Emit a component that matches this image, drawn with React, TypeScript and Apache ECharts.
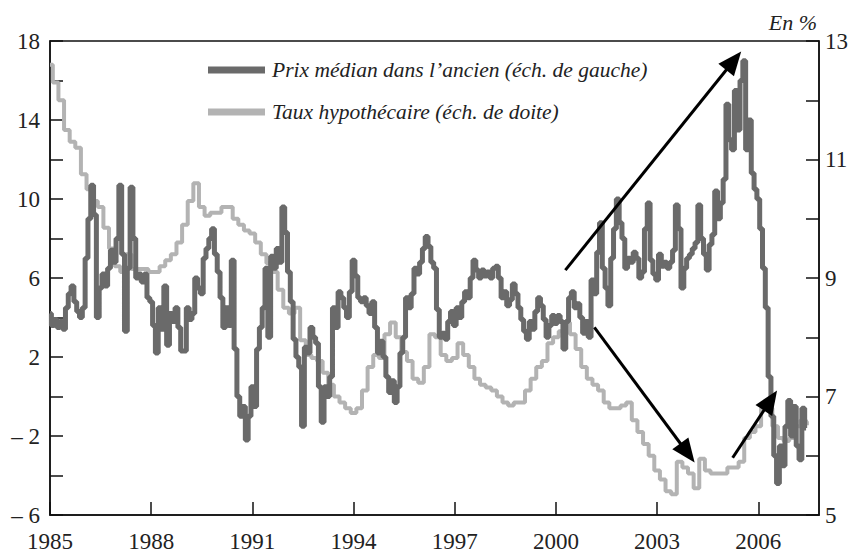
import React, { useEffect, useRef } from "react";
import * as echarts from "echarts";

// Prix médian dans l'ancien, monthly, Jan 1985 onward (left scale)
const prixMedian: number[] = [
  4.2, 3.6, 3.9, 3.5, 3.8, 3.4, 4.5, 5.2, 5.6, 4.8, 4.3, 4.0,
  4.5, 7.0, 9.0, 10.7, 9.2, 4.0, 5.5, 6.2, 5.6, 6.5, 7.4, 6.8,
  8.0, 10.7, 7.2, 3.3, 6.5, 10.6, 8.0, 6.0, 6.2, 5.8, 6.2, 5.0,
  4.8, 3.6, 2.2, 4.5, 3.4, 5.6, 2.6, 4.2, 3.8, 4.5, 3.5, 2.3,
  2.3, 4.5, 3.9, 4.2, 6.0, 5.5, 5.2, 7.0, 7.5, 8.0, 8.5, 7.2,
  6.3, 5.0, 3.5, 4.5, 3.6, 6.9, 2.4, 0.0, -1.0, -0.5, -2.2, -1.0,
  0.5, -0.5, 2.4, 3.5, 4.5, 6.5, 3.0, 7.1, 6.5, 7.5, 6.8, 9.6,
  8.3, 6.3, 4.8, 2.9, 2.0, 1.5, -1.5, 2.5, 2.2, 3.5, 3.0, 2.7,
  0.5, -1.3, 0.5, 0.0, 1.0, 4.5, 3.5, 5.3, 5.0, 4.5, 4.0, 5.3,
  6.9, 6.1, 5.0, 4.8, 5.0, 4.6, 4.2, 4.8, 3.5, 2.2, 2.8, 2.0,
  1.0, 0.2, 0.8, -0.3, 0.5, 2.2, 3.0, 5.0, 4.5, 5.2, 6.5, 6.2,
  6.8, 7.5, 8.1, 7.6, 6.8, 6.5, 4.4, 3.0, 3.2, 2.9, 3.8, 4.3,
  3.6, 4.5, 4.0, 4.8, 5.3, 5.0, 6.0, 6.9, 6.4, 6.0, 6.4, 6.1,
  6.3, 6.0, 6.5, 6.6, 6.0, 5.0, 5.3, 4.6, 4.9, 5.7, 5.2, 4.5,
  3.9, 3.3, 2.9, 3.8, 3.4, 4.3, 5.0, 4.6, 3.9, 3.0, 3.6, 4.1,
  3.7, 4.1, 3.8, 2.4, 3.8, 5.0, 5.3, 4.5, 4.7, 4.0, 3.2, 3.8,
  3.0, 5.9, 5.2, 7.3, 8.8, 6.5, 5.5, 4.6, 7.0, 8.5, 10.0, 8.8,
  8.0, 6.5, 7.0, 6.8, 7.3, 7.0, 6.0, 6.3, 8.5, 9.8, 6.9, 6.2,
  5.9, 7.2, 6.6, 6.8, 6.5, 6.8, 7.4, 9.7, 8.5, 5.5, 6.5, 7.0,
  7.2, 7.5, 7.8, 9.7, 8.0, 7.2, 6.4, 7.7, 8.2, 10.4, 9.0, 9.8,
  11.0, 14.8, 13.0, 12.5, 15.5, 13.5, 16.0, 17.0, 12.5, 14.0, 11.3, 10.5,
  10.0, 8.5, 6.5, 4.5, 1.0, -1.0, -3.0, -4.4, -2.5, -3.5, -1.5, -0.2,
  -2.0, -0.5, -2.5, -3.2, -0.6, -1.6,
];

// Taux hypothécaire, every two months, Jan 1985 onward (right scale)
const tauxHypo: number[] = [
  12.6, 12.3, 12.0, 11.5, 11.3, 11.2,
  10.75, 10.5, 10.3, 10.2, 9.85, 9.5,
  9.2, 9.1, 9.4, 9.15, 9.15, 9.15,
  9.1, 9.1, 9.2, 9.3, 9.4, 9.6,
  9.9, 10.3, 10.6, 10.2, 10.05, 10.1,
  10.1, 10.2, 10.2, 10.0, 9.9, 9.8,
  9.75, 9.6, 9.4, 9.25, 9.1, 8.8,
  8.5, 8.4, 8.5, 7.95, 7.7, 7.65,
  7.6, 7.4, 7.2, 7.0, 6.9, 6.8,
  6.72, 6.8, 7.1, 7.5, 7.7, 7.65,
  8.05, 8.25, 8.0, 7.75, 7.6, 7.3,
  7.23, 7.5, 8.05, 8.0, 7.7, 7.6,
  7.65, 7.9, 7.7, 7.5, 7.3, 7.2,
  7.15, 7.1, 7.0, 6.9, 6.85, 6.9,
  6.9, 7.1, 7.3, 7.5, 7.6, 7.9,
  8.0, 8.1, 8.25, 8.05, 7.8, 7.5,
  7.3, 7.2, 7.1, 6.9, 6.8, 6.8,
  6.85, 6.9, 6.6, 6.4, 6.2, 6.0,
  5.75, 5.6, 5.4, 5.35, 5.9, 5.8,
  5.7, 5.45, 5.95, 5.75, 5.7, 5.7,
  5.7, 5.8, 5.8, 5.9, 6.3, 6.4,
  6.5, 6.8, 6.8, 6.5, 6.3, 6.25,
  6.3, 6.5, 6.6, 6.55,
];

const START_YEAR = 1985;
const xYearTicks = [1985, 1988, 1991, 1994, 1997, 2000, 2003, 2006];
const leftLabels = [-6, -2, 2, 6, 10, 14, 18];
const rightLabels = [5, 7, 9, 11, 13];

// Arrows, in (years since 1985, left-scale value)
const arrows: [number, number, number, number][] = [
  [15.28, 6.4, 20.27, 17.0],
  [16.14, 3.5, 18.9, -2.86],
  [20.24, -3.1, 21.36, -0.2],
];

const names = [
  "Prix médian dans l’ancien (éch. de gauche)",
  "Taux hypothécaire (éch. de doite)",
];

const DARK = "#6a6a6a";
const LIGHT = "#b3b3b3";
const FONT = "Liberation Serif";

export default function App() {
  const ref = useRef<HTMLDivElement>(null);
  useEffect(() => {
    if (!ref.current) return;
    const chart = echarts.init(ref.current, undefined, { renderer: "svg" });
    const darkData = prixMedian.map((v, i) => [i / 12, v]);
    const lightData = tauxHypo.map((v, i) => [i / 6, v]);
    const fmtSigned = (v: number) => (v < 0 ? "\u2013 " + Math.abs(v) : String(v));
    chart.setOption({
      animation: false,
      backgroundColor: "#ffffff",
      grid: {
        left: 50,
        right: 38,
        top: 41,
        bottom: 39,
        show: true,
        borderColor: "#111",
        borderWidth: 1.5,
        containLabel: false,
      },
      legend: {
        left: 203,
        top: 53,
        orient: "vertical",
        icon: "rect",
        itemWidth: 57,
        itemHeight: 7,
        itemGap: 18,
        textStyle: {
          fontFamily: FONT,
          fontStyle: "italic",
          fontSize: 21.5,
          color: "#222",
          lineHeight: 24,
          padding: [0, 0, 0, 2],
        },
        data: names,
      },
      graphic: [
        {
          type: "text",
          right: 40,
          top: 11,
          style: {
            text: "En %",
            fontFamily: FONT,
            fontStyle: "italic",
            fontSize: 22,
            fill: "#222",
          },
        },
      ],
      xAxis: {
        type: "value",
        min: 0,
        max: 22.8,
        interval: 3,
        axisLine: { show: true, onZero: false, lineStyle: { color: "#111", width: 1.5 } },
        axisTick: { show: true, inside: true, length: 13, lineStyle: { color: "#111", width: 1.5 } },
        splitLine: { show: false },
        axisLabel: {
          margin: 15,
          showMaxLabel: false,
          fontFamily: FONT,
          fontSize: 23,
          color: "#222",
          formatter: (v: number) => {
            const y = Math.round(v + START_YEAR);
            return xYearTicks.includes(y) && Math.abs(v - Math.round(v)) < 1e-6 ? String(y) : "";
          },
        },
      },
      yAxis: [
        {
          type: "value",
          min: -6,
          max: 18,
          interval: 2,
          position: "left",
          axisLine: { show: true, onZero: false, lineStyle: { color: "#111", width: 1.5 } },
          axisTick: { show: true, inside: true, length: 13, lineStyle: { color: "#111", width: 1.5 } },
          splitLine: { show: false },
          axisLabel: {
            margin: 10,
            fontFamily: FONT,
            fontSize: 23,
            color: "#222",
            formatter: (v: number) => (leftLabels.includes(v) ? fmtSigned(v) : ""),
          },
        },
        {
          type: "value",
          min: 5,
          max: 13,
          interval: 1,
          position: "right",
          axisLine: { show: true, onZero: false, lineStyle: { color: "#111", width: 1.5 } },
          axisTick: { show: true, inside: true, length: 13, lineStyle: { color: "#111", width: 1.5 } },
          splitLine: { show: false },
          axisLabel: {
            margin: 6,
            fontFamily: FONT,
            fontSize: 23,
            color: "#222",
            formatter: (v: number) => (rightLabels.includes(v) ? String(v) : ""),
          },
        },
      ],
      series: [
        {
          name: names[0],
          type: "line",
          yAxisIndex: 0,
          data: darkData,
          step: "middle",
          showSymbol: false,
          color: DARK,
          lineStyle: { color: DARK, width: 5 },
          z: 3,
          markLine: {
            silent: true,
            symbol: ["none", "triangle"],
            symbolSize: [20, 24],
            label: { show: false },
            lineStyle: { color: "#000", width: 3, type: "solid" },
            data: arrows.map((a) => [
              { coord: [a[0], a[1]] },
              { coord: [a[2], a[3]] },
            ]),
          },
        },
        {
          name: names[1],
          type: "line",
          yAxisIndex: 1,
          data: lightData,
          step: "middle",
          showSymbol: false,
          color: LIGHT,
          lineStyle: { color: LIGHT, width: 4 },
          z: 2,
        },
      ],
    });
    return () => chart.dispose();
  }, []);
  return (
    <div
      ref={ref}
      style={{ position: "absolute", left: 0, top: 0, width: 857, height: 554 }}
    />
  );
}
